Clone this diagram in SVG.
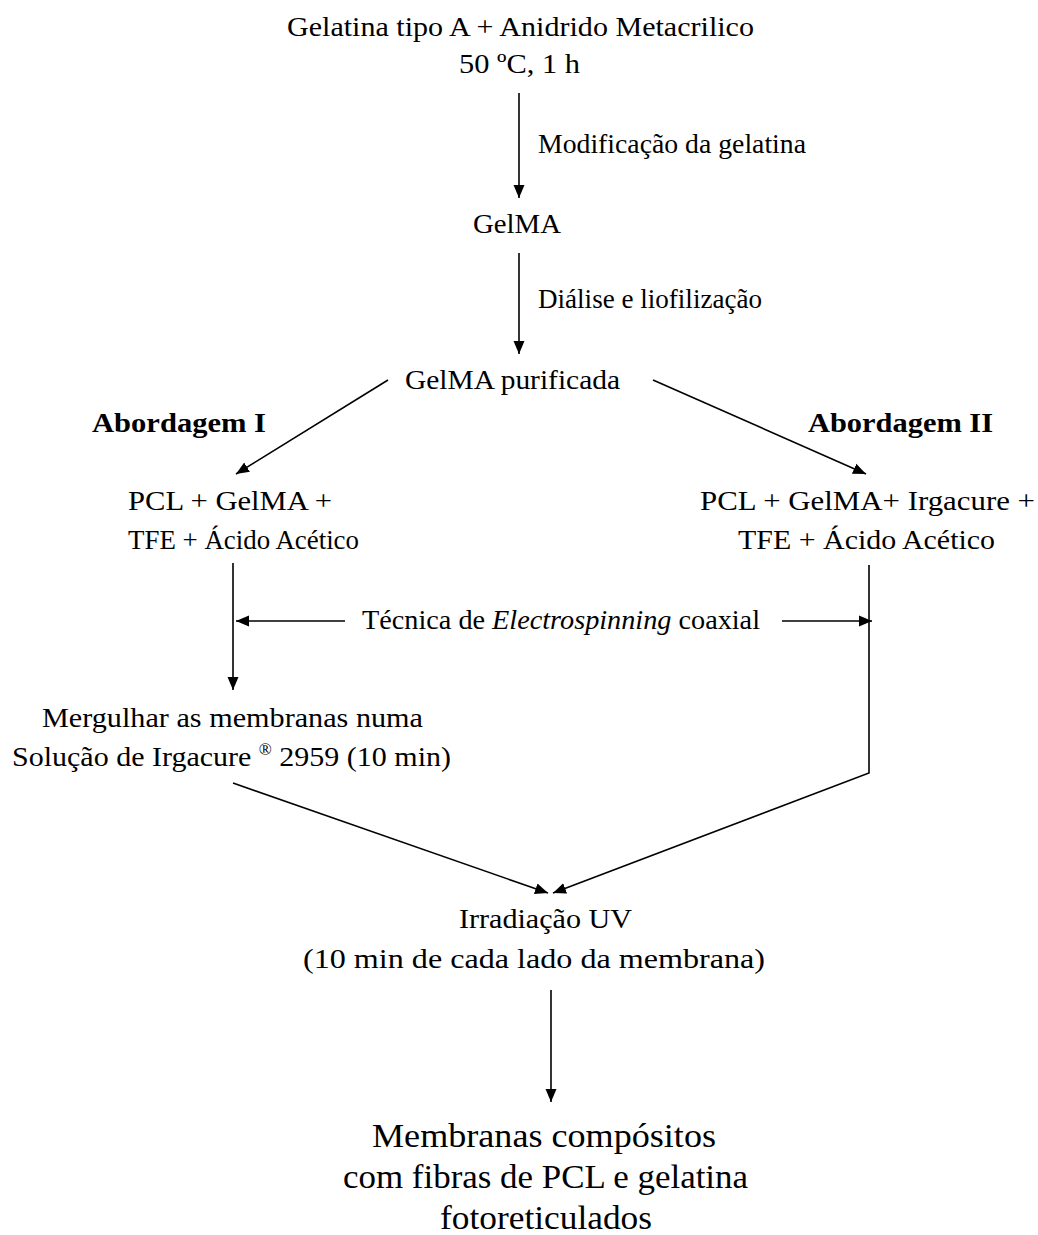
<svg xmlns="http://www.w3.org/2000/svg" width="1038" height="1235" viewBox="0 0 1038 1235">
<style>
text{fill:#000;font-size:28px}
.b{font-weight:bold;font-size:28px}
.big{font-size:34px}
.c{stroke:#000;stroke-width:1.6;fill:none;marker-end:url(#ah)}
</style>
<defs>
<marker id="ah" markerUnits="userSpaceOnUse" markerWidth="14" markerHeight="12" refX="13" refY="5.5" orient="auto" viewBox="0 0 14 11">
<path d="M0,0 L13,5.5 L0,11 z" fill="#000"/>
</marker>
</defs>
<rect width="1038" height="1235" fill="#fff"/>
<g id="connectors">
<line class="c" x1="519" y1="93" x2="519" y2="198"/>
<line class="c" x1="519" y1="253" x2="519" y2="354"/>
<line class="c" x1="388" y1="380" x2="236" y2="474"/>
<line class="c" x1="653" y1="380" x2="866" y2="474"/>
<line class="c" x1="233" y1="563" x2="233" y2="690"/>
<line class="c" x1="345" y1="621" x2="236" y2="621"/>
<line class="c" x1="782" y1="621" x2="872" y2="621"/>
<polyline class="c" points="869,565 869,773 553,893"/>
<line class="c" x1="233" y1="783" x2="548" y2="893"/>
<line class="c" x1="551" y1="990" x2="551" y2="1102"/>
</g>
<g font-family="'Liberation Serif', 'Times New Roman', serif" xml:space="preserve">
<g id="start">
<text x="287" y="36" textLength="467" lengthAdjust="spacingAndGlyphs">Gelatina  tipo A + Anidrido  Metacrilico</text>
<text x="459" y="73" textLength="121" lengthAdjust="spacingAndGlyphs">50 ºC, 1 h</text>
</g>
<g id="label-mod"><text x="538" y="153" textLength="268" lengthAdjust="spacingAndGlyphs">Modificação da gelatina</text></g>
<g id="gelma"><text x="473" y="233" textLength="88" lengthAdjust="spacingAndGlyphs">GelMA</text></g>
<g id="label-dialise"><text x="538" y="308" textLength="224" lengthAdjust="spacingAndGlyphs">Diálise e liofilização</text></g>
<g id="gelma-purificada"><text x="405" y="389" textLength="215" lengthAdjust="spacingAndGlyphs">GelMA  purificada</text></g>
<g id="abordagem-1"><text class="b" x="92" y="432" textLength="174" lengthAdjust="spacingAndGlyphs">Abordagem  I</text></g>
<g id="abordagem-2"><text class="b" x="808" y="432" textLength="185" lengthAdjust="spacingAndGlyphs">Abordagem  II</text></g>
<g id="mix-1">
<text x="128" y="510" textLength="204" lengthAdjust="spacingAndGlyphs">PCL + GelMA +</text>
<text x="128" y="549" textLength="231" lengthAdjust="spacingAndGlyphs">TFE + Ácido  Acético</text>
</g>
<g id="mix-2">
<text x="700" y="510" textLength="335" lengthAdjust="spacingAndGlyphs">PCL + GelMA+  Irgacure +</text>
<text x="738" y="549" textLength="257" lengthAdjust="spacingAndGlyphs">TFE + Ácido  Acético</text>
</g>
<g id="label-electro"><text x="362" y="629" textLength="398" lengthAdjust="spacingAndGlyphs">Técnica de <tspan font-style="italic">Electrospinning</tspan> coaxial</text></g>
<g id="mergulhar">
<text x="42" y="727" textLength="381" lengthAdjust="spacingAndGlyphs">Mergulhar  as membranas  numa</text>
<text x="12" y="766" textLength="439" lengthAdjust="spacingAndGlyphs">Solução  de Irgacure <tspan font-size="16" dy="-11">®</tspan><tspan dy="11"> 2959 (10 min)</tspan></text>
</g>
<g id="irradiacao">
<text x="459" y="928" textLength="173" lengthAdjust="spacingAndGlyphs">Irradiação  UV</text>
<text x="303" y="968" textLength="462" lengthAdjust="spacingAndGlyphs">(10 min  de cada lado  da membrana)</text>
</g>
<g id="result">
<text class="big" x="372" y="1147" textLength="344" lengthAdjust="spacingAndGlyphs">Membranas  compósitos</text>
<text class="big" x="343" y="1188" textLength="405" lengthAdjust="spacingAndGlyphs">com fibras de PCL e gelatina</text>
<text class="big" x="440" y="1229" textLength="212" lengthAdjust="spacingAndGlyphs">fotoreticulados</text>
</g>
</g>
</svg>
